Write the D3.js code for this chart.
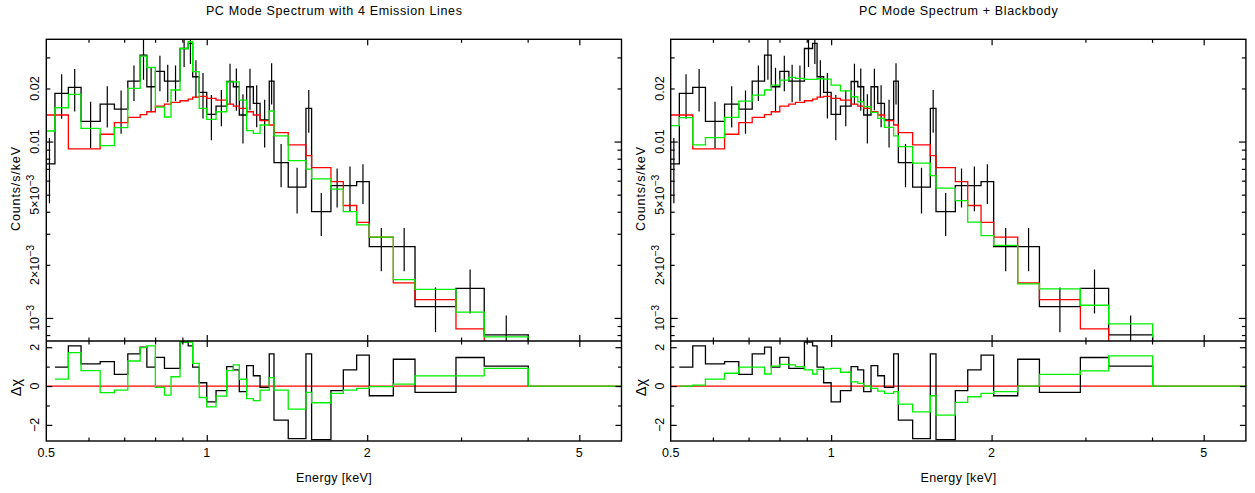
<!DOCTYPE html>
<html><head><meta charset="utf-8">
<script src="https://cdn.jsdelivr.net/npm/d3@7"></script>
<style>
body{margin:0;background:#fff}
svg{display:block}
text{font-family:"Liberation Sans",Arial,sans-serif;fill:#000}
</style>
</head><body><svg id="c" width="1255" height="493"></svg>
<script>
// ---------- data ----------
const binEdges = [0.495,0.519,0.550,0.581,0.631,0.671,0.711,0.750,0.772,0.801,0.833,0.857,0.891,0.923,0.941,0.968,1.000,1.041,1.090,1.122,1.151,1.188,1.223,1.259,1.310,1.337,1.422,1.535,1.573,1.710,1.804,1.911,2.018,2.239,2.459,2.935,3.316,4.011];
const dataCounts = [0.00747,0.01876,0.0203,0.0130,0.01632,0.01529,0.0220,0.0309,0.02045,0.0250,0.0220,0.0220,0.0337,0.0360,0.0233,0.0190,0.01427,0.0159,0.0219,0.02045,0.01414,0.02045,0.01647,0.01325,0.0220,0.0076,0.00551,0.01543,0.00401,0.00563,0.00563,0.00593,0.00254,0.00254,0.00116,0.00147,0.000801];
const dataErr = [0.003,0.0053,0.0055,0.0038,0.0043,0.0042,0.005,0.0085,0.0058,0.0057,0.0053,0.005,0.0072,0.0085,0.0056,0.0055,0.0041,0.0037,0.0057,0.0055,0.0044,0.0054,0.0044,0.004,0.0058,0.0021,0.0016,0.0042,0.0011,0.0014,0.0016,0.0015,0.0007,0.0007,0.00033,0.00041,0.00023];
const modelRed = [0.01414,0.01414,0.00908,0.00908,0.0110,0.01279,0.01373,0.0142,0.01476,0.0159,0.01632,0.01669,0.01704,0.01742,0.01788,0.01804,0.01758,0.01719,0.01632,0.0159,0.01543,0.01476,0.01414,0.01313,0.01241,0.01123,0.00957,0.00832,0.00712,0.00593,0.00434,0.00348,0.00287,0.00158,0.00127,0.000866,0.00057];
const modelLines = [0.01148,0.01555,0.01852,0.01189,0.00948,0.01199,0.0200,0.0305,0.0263,0.01569,0.01378,0.0196,0.0337,0.0368,0.0249,0.01543,0.01337,0.01476,0.0218,0.0218,0.01719,0.01152,0.01114,0.01241,0.0149,0.01076,0.0078,0.00697,0.00614,0.00537,0.00401,0.00337,0.00287,0.00165,0.00145,0.00108,0.00078];
const modelBB = [0.0123,0.01366,0.00957,0.01052,0.01373,0.01697,0.01835,0.0196,0.0209,0.0223,0.0231,0.0228,0.0225,0.0225,0.0227,0.0226,0.0209,0.0194,0.01795,0.01682,0.01576,0.01465,0.01355,0.01205,0.01076,0.00936,0.00754,0.00641,0.00544,0.00463,0.00349,0.00293,0.00258,0.00156,0.00146,0.00118,0.000925];
const residBlack = [null,0.97,2.07,1.14,1.26,0.60,1.66,2.0,0.97,1.48,0.91,0.91,2.26,2.07,0.97,0.17,-0.81,-0.24,1.0,0.83,-0.29,1.05,0.53,-0.07,1.66,-1.76,-2.71,1.66,-2.76,-0.24,0.83,1.59,-0.5,1.38,-0.33,1.47,1.03];
const residLines = [null,0.36,1.72,0.79,-0.34,-0.21,1.29,1.98,2.07,-0.07,-0.47,0.48,2.26,2.26,1.17,-0.59,-1.07,-0.52,0.79,1.09,0.35,-0.65,-0.75,-0.21,0.43,-0.21,-1.19,-0.33,-0.86,-0.38,-0.21,-0.12,-0.03,0.1,0.52,0.52,0.91];
const residBB = [null,0.0,0.05,0.36,0.66,0.97,0.97,0.62,1.03,1.12,1.09,1.0,0.83,0.62,0.86,0.88,0.91,0.71,0.22,0.14,0.0,-0.12,-0.26,-0.38,-0.29,-0.93,-1.33,-0.5,-1.5,-0.84,-0.55,-0.38,-0.29,0.0,0.6,0.78,1.55];
const xMajor = [1,2,5];
const xMinor = [0.6,0.7,0.8,0.9,3,4];
const xLabels = [0.5,1,2,5];
const yMajor = [0.001,0.01];
const yMinor = [0.0008,0.0009,0.002,0.003,0.004,0.005,0.006,0.007,0.008,0.009,0.02,0.03];
const yLabels = [[0.001,"10","−3"],[0.002,"2×10","−3"],[0.005,"5×10","−3"],[0.01,"0.01",""],[0.02,"0.02",""]];
const rMajor = [-2,0,2];
const rMinor = [-1,1];
const titles = ["PC Mode Spectrum with 4 Emission Lines","PC Mode Spectrum + Blackbody"];

// ---------- layout ----------
const svg = d3.select("#c");
const TOP = 39.3, MID = 341, BOT = 441, W = 575.2;
const panelX = [46.3, 670.7];

function stepPath(xs, ys, vals, start, dropTo, extendTo) {
  const p = d3.path();
  let first = true;
  for (let i = start; i < vals.length; i++) {
    const y = ys(vals[i]);
    if (first) { p.moveTo(xs(binEdges[i]), y); first = false; } else p.lineTo(xs(binEdges[i]), y);
    p.lineTo(xs(binEdges[i+1]), y);
  }
  if (dropTo != null) p.lineTo(xs(binEdges[vals.length]), ys(dropTo));
  if (extendTo != null) p.lineTo(xs(extendTo), ys(dropTo));
  return p.toString();
}

function drawPanel(k, green, gResid) {
  const x0 = panelX[k], x1 = x0 + W;
  const g = svg.append("g");
  const x = d3.scaleLog().domain([0.5, 6.0]).range([x0, x1]);
  const y = d3.scaleLog().domain([7.4e-4, 0.038]).range([MID, TOP]);
  const r = d3.scaleLinear().domain([-2.83, 2.32]).range([BOT, MID]);

  const defs = g.append("defs");
  defs.append("clipPath").attr("id","cu"+k).append("rect").attr("x",x0).attr("y",TOP).attr("width",W).attr("height",MID-TOP);
  defs.append("clipPath").attr("id","cr"+k).append("rect").attr("x",x0).attr("y",MID).attr("width",W).attr("height",BOT-MID);

  // upper panel
  const up = g.append("g").attr("clip-path","url(#cu"+k+")").attr("fill","none");
  up.selectAll("line.err").data(dataCounts).join("line").attr("class","err")
    .attr("x1",(d,i)=>x(Math.sqrt(binEdges[i]*binEdges[i+1])))
    .attr("x2",(d,i)=>x(Math.sqrt(binEdges[i]*binEdges[i+1])))
    .attr("y1",(d,i)=>y(d+dataErr[i]))
    .attr("y2",(d,i)=>y(Math.max(d-dataErr[i],1e-5)))
    .attr("stroke","#000").attr("stroke-width",1.2);
  up.append("path").attr("d",stepPath(x,y,dataCounts,0,1e-4)).attr("stroke","#000").attr("stroke-width",1.3);
  up.append("path").attr("d",stepPath(x,y,modelRed,0,1e-4)).attr("stroke","#ff0000").attr("stroke-width",1.3);
  up.append("path").attr("d",stepPath(x,y,green,0,1e-4)).attr("stroke","#00ee00").attr("stroke-width",1.3);

  // residual panel
  const rp = g.append("g").attr("clip-path","url(#cr"+k+")").attr("fill","none");
  rp.append("path").attr("d",d3.line()([[x(0.5),r(0)],[x(6.0),r(0)]])).attr("stroke","#ff0000").attr("stroke-width",1.3);
  rp.append("path").attr("d",stepPath(x,r,residBlack,1,0)).attr("stroke","#000").attr("stroke-width",1.3);
  rp.append("path").attr("d",stepPath(x,r,gResid,1,0,6.0)).attr("stroke","#00ee00").attr("stroke-width",1.3);

  // frames
  g.append("rect").attr("x",x0).attr("y",TOP).attr("width",W).attr("height",BOT-TOP).attr("fill","none").attr("stroke","#000").attr("stroke-width",1.4);
  g.append("line").attr("x1",x0).attr("x2",x1).attr("y1",MID).attr("y2",MID).attr("stroke","#000").attr("stroke-width",1.6);

  // ticks
  function tk(axisFn, scale, vals, len, tr) {
    g.append("g").attr("transform",tr)
      .call(axisFn(scale).tickValues(vals).tickSize(-len).tickFormat(""))
      .call(s=>{s.select(".domain").remove(); s.selectAll("line").attr("stroke-width",1.2);});
  }
  [[TOP,d3.axisTop],[MID,d3.axisBottom],[MID,d3.axisTop],[BOT,d3.axisBottom]].forEach(([yy,fn])=>{
    tk(fn,x,xMajor,6,`translate(0,${yy})`);
    tk(fn,x,xMinor,3.5,`translate(0,${yy})`);
  });
  tk(d3.axisLeft,y,yMajor,7,`translate(${x0},0)`);
  tk(d3.axisLeft,y,yMinor,4,`translate(${x0},0)`);
  tk(d3.axisRight,y,yMajor,7,`translate(${x1},0)`);
  tk(d3.axisRight,y,yMinor,4,`translate(${x1},0)`);
  tk(d3.axisLeft,r,rMajor,6,`translate(${x0},0)`);
  tk(d3.axisLeft,r,rMinor,3.5,`translate(${x0},0)`);
  tk(d3.axisRight,r,rMajor,6,`translate(${x1},0)`);
  tk(d3.axisRight,r,rMinor,3.5,`translate(${x1},0)`);

  // labels
  const fs = 12.5;
  g.selectAll("text.xl").data(xLabels).join("text").attr("class","xl")
    .attr("x",d=>x(d)).attr("y",457.3).attr("text-anchor","middle").attr("font-size",fs).text(d=>String(d));
  yLabels.forEach(([v,main,sup])=>{
    const t = g.append("text").attr("transform",`translate(${x0-7},${y(v)}) rotate(-90)`)
      .attr("text-anchor","middle").attr("font-size",fs);
    t.append("tspan").text(main);
    if (sup) t.append("tspan").attr("dy",-5).attr("font-size",10.5).text(sup);
  });
  rMajor.forEach(v=>{
    g.append("text").attr("transform",`translate(${x0-7},${r(v)}) rotate(-90)`)
      .attr("text-anchor","middle").attr("font-size",fs).text(v<0?"−"+Math.abs(v):String(v));
  });
  g.append("text").attr("transform",`translate(${x0-26},189) rotate(-90)`)
    .attr("text-anchor","middle").attr("font-size",fs)
    .attr("textLength",84).attr("lengthAdjust","spacing").text("Counts/s/keV");
  g.append("text").attr("transform",`translate(${x0-25},387.5) rotate(-90)`)
    .attr("text-anchor","middle").attr("font-size",14.5).text("Δχ");
  g.append("text").attr("x",x0+W/2).attr("y",482).attr("text-anchor","middle").attr("font-size",fs)
    .attr("textLength",75.7).attr("lengthAdjust","spacing").text("Energy [keV]");
  g.append("text").attr("x",x0+W/2).attr("y",15).attr("text-anchor","middle").attr("font-size",fs)
    .attr("textLength",k===0?256:198.7).attr("lengthAdjust","spacing").text(titles[k]);
}

drawPanel(0, modelLines, residLines);
drawPanel(1, modelBB, residBB);
</script>
</body></html>
